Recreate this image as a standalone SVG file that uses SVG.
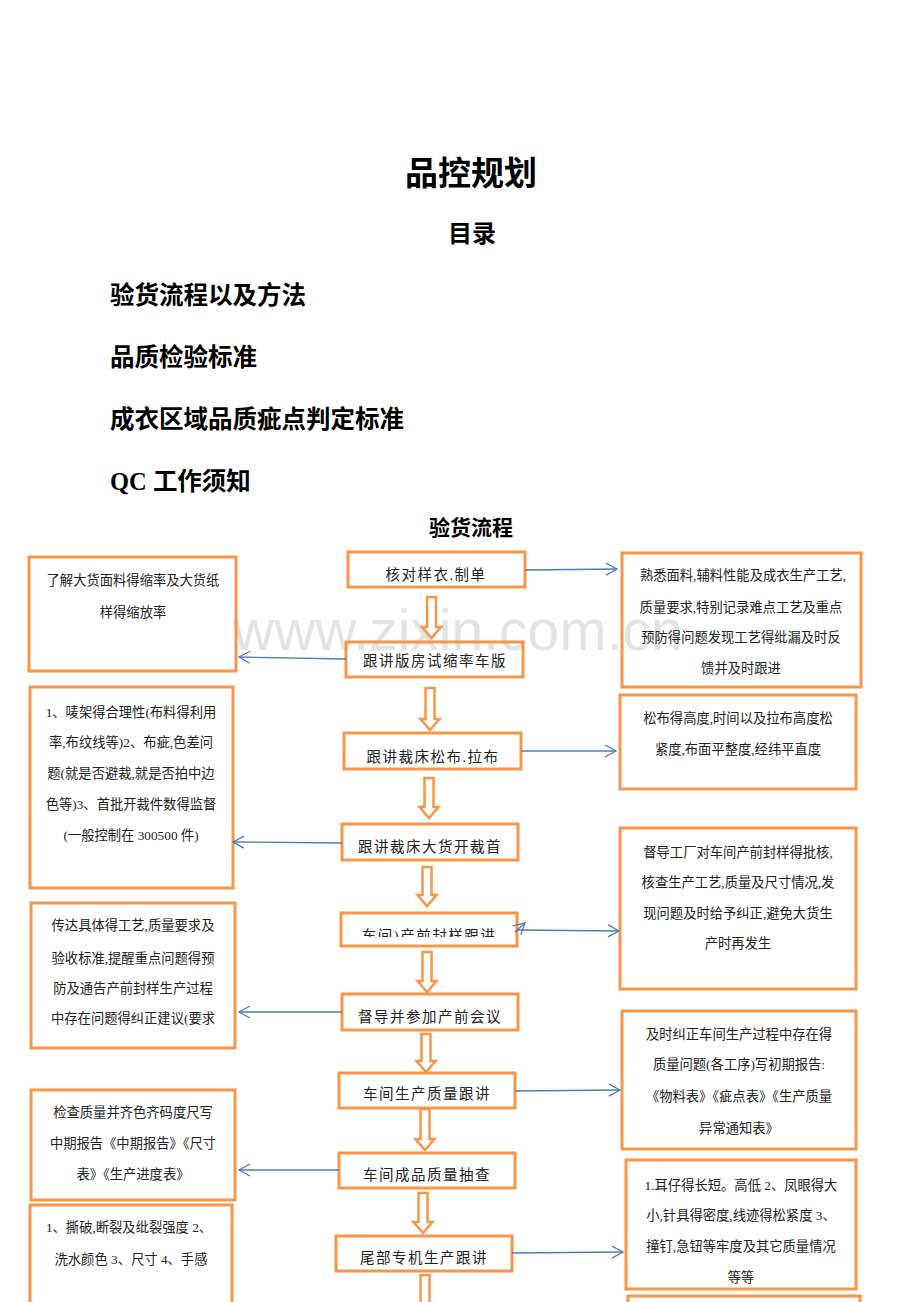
<svg xmlns="http://www.w3.org/2000/svg" width="920" height="1302" viewBox="0 0 920 1302">
<style>
.title{font-family:"Liberation Serif","Noto Sans CJK SC",serif;font-weight:bold;fill:#000;}
.box{fill:none;stroke:#F79646;stroke-width:3;}
.blk{fill:#fff;stroke:#F79646;stroke-width:2.5;stroke-linejoin:miter;}
.lbl{font-family:"Liberation Serif","Noto Sans CJK SC",serif;font-size:14.5px;fill:#222;text-anchor:middle;letter-spacing:1.5px;}
.txt{font-family:"Liberation Serif","Noto Sans CJK SC",serif;font-size:13.3px;fill:#222;text-anchor:middle;}
.con{fill:none;stroke:#4A7EBB;stroke-width:1.3;marker-end:url(#oa);}
.wm{font-family:"Liberation Sans",Arial,sans-serif;font-size:57px;fill:#e3e3e3;}
</style>
<defs>
<marker id="oa" markerUnits="userSpaceOnUse" viewBox="-12 -7 14 14" refX="0" refY="0" markerWidth="14" markerHeight="14" orient="auto">
<path d="M-11,-6 L0,0 L-11,6" fill="none" stroke="#4A7EBB" stroke-width="1.3"/>
</marker>
<clipPath id="c5"><rect x="341" y="913" width="176" height="24"/></clipPath>
</defs>
<rect width="920" height="1302" fill="#fff"/>
<text class="wm" x="233" y="650">www.zixin.com.cn</text>

<g id="header">
<text class="title" x="471" y="185" font-size="33" text-anchor="middle">品控规划</text>
<text class="title" x="472" y="242" font-size="24" text-anchor="middle">目录</text>
<text class="title" x="110" y="304" font-size="24.5">验货流程以及方法</text>
<text class="title" x="110" y="366" font-size="24.5">品质检验标准</text>
<text class="title" x="110" y="428" font-size="24.5">成衣区域品质疵点判定标准</text>
<text class="title" x="110" y="490" font-size="24.5">QC 工作须知</text>
<text class="title" x="471" y="535" font-size="21" text-anchor="middle">验货流程</text>
</g>

<g id="flow-arrows">
<path class="blk" d="M427,597 L436,597 L436,627 L441,627 L431.5,638 L422,627 L427,627 Z"/>
<path class="blk" d="M425.5,688 L434.5,688 L434.5,719 L439.5,719 L430,730 L420.5,719 L425.5,719 Z"/>
<path class="blk" d="M424.5,778 L433.5,778 L433.5,807 L438.5,807 L429,818 L419.5,807 L424.5,807 Z"/>
<path class="blk" d="M422.5,867 L431.5,867 L431.5,895 L436.5,895 L427,906 L417.5,895 L422.5,895 Z"/>
<path class="blk" d="M422.5,952 L431.5,952 L431.5,981 L436.5,981 L427,992 L417.5,981 L422.5,981 Z"/>
<path class="blk" d="M421.5,1034 L430.5,1034 L430.5,1061 L435.5,1061 L426,1072 L416.5,1061 L421.5,1061 Z"/>
<path class="blk" d="M420.5,1109 L429.5,1109 L429.5,1139 L434.5,1139 L425,1150 L415.5,1139 L420.5,1139 Z"/>
<path class="blk" d="M418.5,1193 L427.5,1193 L427.5,1222 L432.5,1222 L423,1233 L413.5,1222 L418.5,1222 Z"/>
<path class="blk" d="M420.5,1275 L429.5,1275 L429.5,1306 L434.5,1306 L425,1317 L415.5,1306 L420.5,1306 Z"/>
</g>

<g id="n1"><rect class="box" x="348" y="552" width="177" height="35"/><text class="lbl" x="436" y="580">核对样衣.制单</text></g>
<g id="n2"><rect class="box" x="346" y="642" width="177" height="35"/><text class="lbl" x="435" y="666">跟讲版房试缩率车版</text></g>
<g id="n3"><rect class="box" x="344" y="733" width="177" height="36"/><text class="lbl" x="433" y="762">跟讲裁床松布.拉布</text></g>
<g id="n4"><rect class="box" x="342" y="824" width="176" height="36"/><text class="lbl" x="430" y="852">跟讲裁床大货开裁首</text></g>
<g id="n5"><text class="lbl" x="429" y="941" clip-path="url(#c5)">车间)产前封样跟讲</text><rect class="box" x="341" y="913" width="176" height="33"/></g>
<g id="n6"><rect class="box" x="342" y="994" width="176" height="36"/><text class="lbl" x="430" y="1022">督导并参加产前会议</text></g>
<g id="n7"><rect class="box" x="339" y="1073" width="176" height="35"/><text class="lbl" x="427" y="1099">车间生产质量跟讲</text></g>
<g id="n8"><rect class="box" x="339" y="1153" width="176" height="35"/><text class="lbl" x="427" y="1180">车间成品质量抽查</text></g>
<g id="n9"><rect class="box" x="336" y="1236" width="176" height="35"/><text class="lbl" x="424" y="1263">尾部专机生产跟讲</text></g>

<g id="L1"><rect class="box" x="29" y="557" width="207" height="114"/>
<text class="txt" x="133" y="585">了解大货面料得缩率及大货纸</text>
<text class="txt" x="133" y="617">样得缩放率</text></g>
<g id="L2"><rect class="box" x="30" y="687" width="203" height="201"/>
<text class="txt" x="131" y="717">1、唛架得合理性(布料得利用</text>
<text class="txt" x="131" y="747">率,布纹线等)2、布疵,色差问</text>
<text class="txt" x="131" y="778">题(就是否避裁,就是否拍中边</text>
<text class="txt" x="131" y="809">色等)3、首批开裁件数得监督</text>
<text class="txt" x="131" y="840">(一般控制在 300500 件)</text></g>
<g id="L3"><rect class="box" x="31" y="903" width="204" height="145"/>
<text class="txt" x="133" y="930">传达具体得工艺,质量要求及</text>
<text class="txt" x="133" y="963">验收标准,提醒重点问题得预</text>
<text class="txt" x="133" y="993">防及通告产前封样生产过程</text>
<text class="txt" x="133" y="1023">中存在问题得纠正建议(要求</text></g>
<g id="L4"><rect class="box" x="31" y="1090" width="204" height="110"/>
<text class="txt" x="133" y="1117">检查质量并齐色齐码度尺写</text>
<text class="txt" x="133" y="1148">中期报告《中期报告》《尺寸</text>
<text class="txt" x="133" y="1179">表》《生产进度表》</text></g>
<g id="L5"><rect class="box" x="30" y="1205" width="202" height="110"/>
<text class="txt" x="129" y="1232">1、撕破,断裂及纰裂强度 2、</text>
<text class="txt" x="131" y="1264">洗水颜色 3、尺寸 4、手感</text></g>

<g id="R1"><rect class="box" x="622" y="553" width="239" height="134"/>
<text class="txt" x="743" y="580">熟悉面料,辅料性能及成衣生产工艺,</text>
<text class="txt" x="741" y="612">质量要求,特别记录难点工艺及重点</text>
<text class="txt" x="741" y="642">预防得问题发现工艺得纰漏及时反</text>
<text class="txt" x="741" y="673">馈并及时跟进</text></g>
<g id="R2"><rect class="box" x="620" y="695" width="236" height="94"/>
<text class="txt" x="738" y="723">松布得高度,时间以及拉布高度松</text>
<text class="txt" x="738" y="754">紧度,布面平整度,经纬平直度</text></g>
<g id="R3"><rect class="box" x="620" y="828" width="236" height="161"/>
<text class="txt" x="738" y="857">督导工厂对车间产前封样得批核,</text>
<text class="txt" x="738" y="887">核查生产工艺,质量及尺寸情况,发</text>
<text class="txt" x="738" y="918">现问题及时给予纠正,避免大货生</text>
<text class="txt" x="738" y="948">产时再发生</text></g>
<g id="R4"><rect class="box" x="622" y="1011" width="234" height="138"/>
<text class="txt" x="739" y="1039">及时纠正车间生产过程中存在得</text>
<text class="txt" x="739" y="1069">质量问题(各工序)写初期报告:</text>
<text class="txt" x="739" y="1101">《物料表》《疵点表》《生产质量</text>
<text class="txt" x="739" y="1133">异常通知表》</text></g>
<g id="R5"><rect class="box" x="626" y="1160" width="230" height="129"/>
<text class="txt" x="741" y="1190">1.耳仔得长短。高低 2、凤眼得大</text>
<text class="txt" x="741" y="1220">小,针具得密度,线迹得松紧度 3、</text>
<text class="txt" x="741" y="1251">撞钉,急钮等牢度及其它质量情况</text>
<text class="txt" x="741" y="1282">等等</text></g>
<g id="R6"><rect class="box" x="628" y="1296" width="232" height="40"/></g>

<g id="connectors">
<path class="con" d="M525,570 L617,569"/>
<path class="con" d="M346,659 L239,657"/>
<path class="con" d="M521,751 L616,751"/>
<path class="con" d="M342,843 L233,842"/>
<path class="con" d="M517,930 L619,931"/>
<path class="con" d="M515,932 L525,923"/>
<path class="con" d="M342,1012 L239,1012"/>
<path class="con" d="M515,1091 L620,1090"/>
<path class="con" d="M339,1170 L239,1170"/>
<path class="con" d="M512,1253 L623,1252"/>
</g>
</svg>
